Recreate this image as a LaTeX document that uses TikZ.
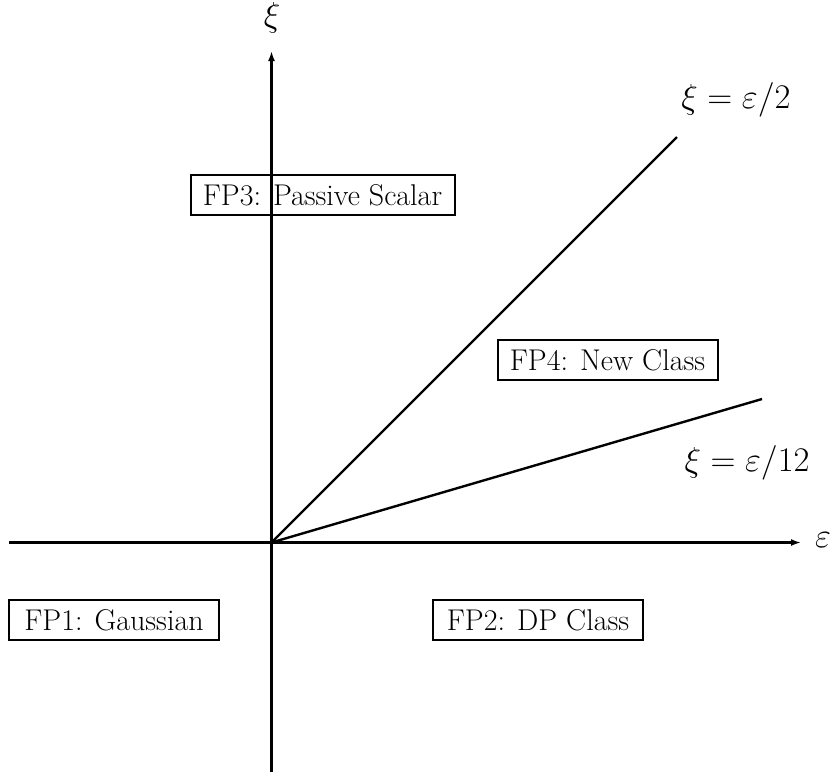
\documentclass[tikz,border=0pt]{standalone}
\usetikzlibrary{arrows.meta}
\begin{document}
\begin{tikzpicture}[x=0.5pt,y=-0.5pt,
  fpbox/.style={draw,line width=1pt,inner sep=0pt,minimum height=20pt,font=\fontsize{15}{18}\selectfont},
  lbl/.style={font=\fontsize{17}{20}\selectfont},
  axis/.style={line width=1.5pt,-{Latex[length=5pt,width=3.5pt]}},
  ray/.style={line width=1.2pt}]
\useasboundingbox (0,0) rectangle (830,773);
\coordinate (O) at (271.5,542.5);
\coordinate (xl) at (9,542.5);
\coordinate (xr) at (801,542.5);
\coordinate (yb) at (271.5,772);
\coordinate (yt) at (271.5,51);
\coordinate (r1) at (677,137);
\coordinate (r2) at (762,399);
\draw[axis] (xl) -- (xr);
\draw[axis] (yb) -- (yt);
\draw[ray] (O) -- (r1);
\draw[ray] (O) -- (r2);
\node[lbl] (eps) at (823,540) {$\varepsilon$};
\node[lbl] (xi) at (272,18) {$\xi$};
\node[lbl] (l1) at (736,100) {$\xi=\varepsilon/2$};
\node[lbl] (l2) at (747,463) {$\xi=\varepsilon/12$};
\node[fpbox,minimum width=132pt] (fp3) at (322.5,195) {FP3: Passive Scalar};
\node[fpbox,minimum width=110pt] (fp4) at (607.5,360) {FP4: New Class};
\node[fpbox,minimum width=105pt] (fp1) at (114,620) {FP1: Gaussian};
\node[fpbox,minimum width=105pt] (fp2) at (538,620) {FP2: DP Class};
\end{tikzpicture}
\end{document}
